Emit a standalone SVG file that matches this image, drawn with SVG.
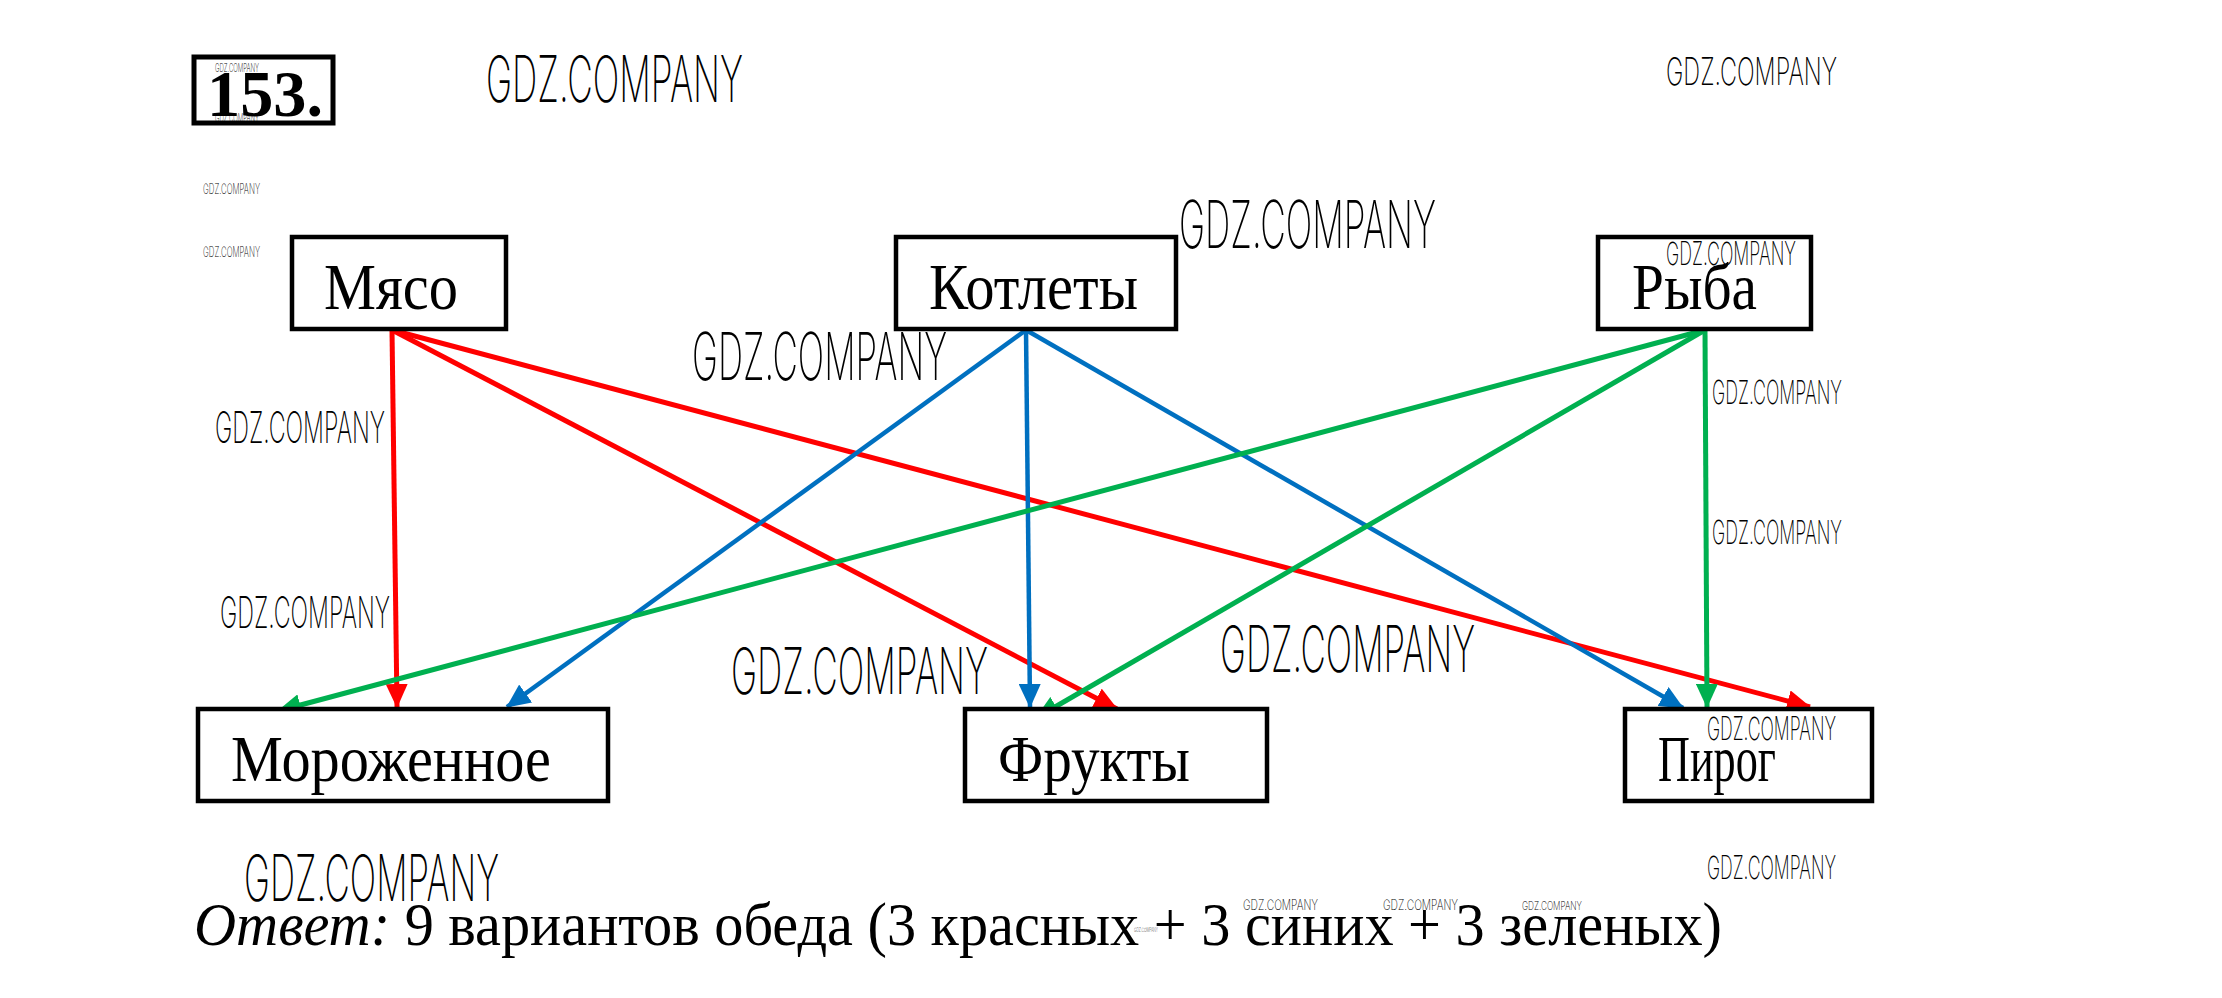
<svg xmlns="http://www.w3.org/2000/svg" width="2222" height="998" viewBox="0 0 2222 998">
<style>
.box{fill:#fff;stroke:#000;stroke-width:4.5}
.lbl{font-family:"Liberation Serif","Times New Roman",serif;font-size:66px;fill:#000}
.wm{font-family:Inter,Roboto,"Liberation Sans",sans-serif;font-weight:200;fill:#000}
.r{stroke:#ff0000;stroke-width:5;fill:none}
.b{stroke:#0070c0;stroke-width:4.5;fill:none}
.g{stroke:#00b050;stroke-width:5;fill:none}
.ans{font-family:"Liberation Serif","Times New Roman",serif;font-size:62px;fill:#000}
</style>
<defs>
<marker id="ar" markerUnits="userSpaceOnUse" markerWidth="24" markerHeight="22" viewBox="0 0 24 22" refX="23" refY="11" orient="auto"><path d="M0,0 L24,11 L0,22 z" fill="#ff0000"/></marker>
<marker id="ab" markerUnits="userSpaceOnUse" markerWidth="24" markerHeight="22" viewBox="0 0 24 22" refX="23" refY="11" orient="auto"><path d="M0,0 L24,11 L0,22 z" fill="#0070c0"/></marker>
<marker id="ag" markerUnits="userSpaceOnUse" markerWidth="24" markerHeight="22" viewBox="0 0 24 22" refX="23" refY="11" orient="auto"><path d="M0,0 L24,11 L0,22 z" fill="#00b050"/></marker>
</defs>
<rect width="2222" height="998" fill="#fff"/>

<g id="num">
<rect x="194" y="57" width="139" height="66" fill="#fff" stroke="#000" stroke-width="5"/>
<text x="207" y="116" font-family="'Liberation Serif',serif" font-weight="bold" font-size="66" textLength="116" lengthAdjust="spacingAndGlyphs">153.</text>
</g>

<g id="connectors">
<line class="r" x1="392" y1="330" x2="397" y2="707" marker-end="url(#ar)"/>
<line class="r" x1="392" y1="330" x2="1117" y2="709" marker-end="url(#ar)"/>
<line class="r" x1="392" y1="330" x2="1810" y2="707" marker-end="url(#ar)"/>
<line class="b" x1="1026" y1="330" x2="507" y2="707" marker-end="url(#ab)"/>
<line class="b" x1="1026" y1="330" x2="1030" y2="707" marker-end="url(#ab)"/>
<line class="b" x1="1026" y1="330" x2="1683" y2="708" marker-end="url(#ab)"/>
<line class="g" x1="1705" y1="330" x2="278" y2="711" marker-end="url(#ag)"/>
<line class="g" x1="1705" y1="330" x2="1036" y2="718" marker-end="url(#ag)"/>
<line class="g" x1="1705" y1="330" x2="1707" y2="707" marker-end="url(#ag)"/>
</g>

<g id="n-myaso"><rect class="box" x="292" y="237" width="214" height="92"/><text class="lbl" x="324" y="309" textLength="134" lengthAdjust="spacingAndGlyphs">Мясо</text></g>
<g id="n-kotlety"><rect class="box" x="896" y="237" width="280" height="92"/><text class="lbl" x="929" y="309" textLength="209" lengthAdjust="spacingAndGlyphs">Котлеты</text></g>
<g id="n-ryba"><rect class="box" x="1598" y="237" width="213" height="92"/><text class="lbl" x="1632" y="309" textLength="125" lengthAdjust="spacingAndGlyphs">Рыба</text></g>
<g id="n-morozhenoe"><rect class="box" x="198" y="709" width="410" height="92"/><text class="lbl" x="231" y="781" textLength="320" lengthAdjust="spacingAndGlyphs">Мороженное</text></g>
<g id="n-frukty"><rect class="box" x="965" y="709" width="302" height="92"/><text class="lbl" x="998" y="781" textLength="192" lengthAdjust="spacingAndGlyphs">Фрукты</text></g>
<g id="n-pirog"><rect class="box" x="1625" y="709" width="247" height="92"/><text class="lbl" x="1658" y="781" textLength="118" lengthAdjust="spacingAndGlyphs">Пирог</text></g>

<g id="answer">
<text class="ans" x="194" y="945" textLength="1528" lengthAdjust="spacingAndGlyphs"><tspan font-style="italic">Ответ:</tspan> 9 вариантов обеда (3 красных + 3 синих + 3 зеленых)</text>
</g>

<g id="watermarks">
<text class="wm" x="486" y="102" font-size="64" textLength="257" lengthAdjust="spacingAndGlyphs">GDZ.COMPANY</text>
<text class="wm" x="1666" y="85" font-size="38" textLength="171" lengthAdjust="spacingAndGlyphs">GDZ.COMPANY</text>
<text class="wm" x="215" y="72" font-size="12" textLength="44" lengthAdjust="spacingAndGlyphs">GDZ.COMPANY</text>
<text class="wm" x="215" y="122" font-size="12" textLength="44" lengthAdjust="spacingAndGlyphs">GDZ.COMPANY</text>
<text class="wm" x="203" y="194" font-size="14" textLength="57" lengthAdjust="spacingAndGlyphs">GDZ.COMPANY</text>
<text class="wm" x="203" y="257" font-size="14" textLength="57" lengthAdjust="spacingAndGlyphs">GDZ.COMPANY</text>
<text class="wm" x="1179" y="248" font-size="66" textLength="257" lengthAdjust="spacingAndGlyphs">GDZ.COMPANY</text>
<text class="wm" x="1666" y="265" font-size="32" textLength="130" lengthAdjust="spacingAndGlyphs">GDZ.COMPANY</text>
<text class="wm" x="692" y="380" font-size="66" textLength="255" lengthAdjust="spacingAndGlyphs">GDZ.COMPANY</text>
<text class="wm" x="215" y="443" font-size="44" textLength="170" lengthAdjust="spacingAndGlyphs">GDZ.COMPANY</text>
<text class="wm" x="1712" y="404" font-size="33" textLength="130" lengthAdjust="spacingAndGlyphs">GDZ.COMPANY</text>
<text class="wm" x="220" y="628" font-size="44" textLength="170" lengthAdjust="spacingAndGlyphs">GDZ.COMPANY</text>
<text class="wm" x="1712" y="544" font-size="33" textLength="130" lengthAdjust="spacingAndGlyphs">GDZ.COMPANY</text>
<text class="wm" x="1220" y="672" font-size="64" textLength="255" lengthAdjust="spacingAndGlyphs">GDZ.COMPANY</text>
<text class="wm" x="731" y="694" font-size="64" textLength="257" lengthAdjust="spacingAndGlyphs">GDZ.COMPANY</text>
<text class="wm" x="1707" y="740" font-size="32" textLength="129" lengthAdjust="spacingAndGlyphs">GDZ.COMPANY</text>
<text class="wm" x="244" y="901" font-size="64" textLength="255" lengthAdjust="spacingAndGlyphs">GDZ.COMPANY</text>
<text class="wm" x="1707" y="879" font-size="32" textLength="129" lengthAdjust="spacingAndGlyphs">GDZ.COMPANY</text>
<text class="wm" x="1243" y="910" font-size="14" textLength="75" lengthAdjust="spacingAndGlyphs">GDZ.COMPANY</text>
<text class="wm" x="1383" y="910" font-size="14" textLength="75" lengthAdjust="spacingAndGlyphs">GDZ.COMPANY</text>
<text class="wm" x="1522" y="910" font-size="12" textLength="60" lengthAdjust="spacingAndGlyphs">GDZ.COMPANY</text>
<text class="wm" x="1134" y="932" font-size="6" textLength="24" lengthAdjust="spacingAndGlyphs">GDZ.COMPANY</text>
</g>
</svg>
